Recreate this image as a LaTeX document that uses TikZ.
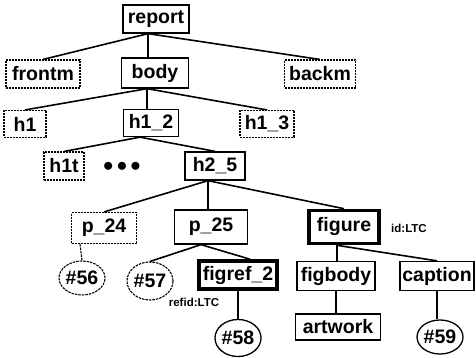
\documentclass[tikz,border=0pt]{standalone}
\usepackage{fontspec}
\setmainfont{Liberation Sans}
\usetikzlibrary{shapes.geometric}
\begin{document}
\begin{tikzpicture}[x=1pt,y=-1pt,
  every node/.style={font=\fontsize{19.5}{19.5}\selectfont\bfseries, inner sep=0pt},
  sbox/.style={draw, line width=1.3pt, rectangle, minimum height=#1},
  sbox/.default=28pt,
  dbox/.style={sbox=#1, dash pattern=on 2pt off 1pt, line width=1.1pt},
  dbox/.default=28pt,
  tbox/.style={draw, line width=3.6pt, rectangle},
  ell/.style={draw, ellipse, line width=1.3pt},
  dell/.style={ell, dash pattern=on 2.5pt off 1pt, line width=1.1pt},
  conn/.style={line width=1.6pt},
  lbl/.style={font=\fontsize{11.5}{11.5}\selectfont\bfseries}]
\useasboundingbox (0,0) rectangle (476,358);
% nodes
\node[sbox, minimum width=66pt] (report) at (156,19) {report};
\node[dbox, minimum width=74pt] (frontm) at (43,74) {frontm};
\node[sbox=30pt, minimum width=67pt] (body) at (155,73) {body};
\node[dbox, minimum width=71pt] (backm) at (320,74) {backm};
\node[dbox=27pt, minimum width=42pt] (h1) at (25,124) {h1};
\node[sbox=27pt, minimum width=55pt] (h12) at (151,123) {h1\_2};
\node[dbox=27pt, minimum width=54pt] (h13) at (267,124) {h1\_3};
\node[dbox, minimum width=40pt] (h1t) at (64,166) {h1t};
\node (dots) at (122,167) {$\bullet$\,$\bullet$\,$\bullet$};
\node[sbox, minimum width=60pt] (h25) at (215,166) {h2\_5};
\node[dbox=31pt, minimum width=65pt] (p24) at (104,228) {p\_24};
\node[sbox=34pt, minimum width=73pt] (p25) at (211,227) {p\_25};
\node[tbox, minimum width=70pt, minimum height=33pt] (figure) at (344,227) {figure};
\node[lbl, anchor=west] (idltc) at (391,228) {id:LTC};
\node[dell, minimum width=40pt, minimum height=34pt] (n56) at (82,278) {\#56};
\node[dell, minimum width=42pt, minimum height=38pt] (n57) at (150,281) {\#57};
\node[tbox, minimum width=78pt, minimum height=28pt] (figref) at (238,275) {figref\_2};
\node[lbl] (refid) at (194,302) {refid:LTC};
\node[ell, minimum width=45pt, minimum height=37pt] (n58) at (238,338) {\#58};
\node[sbox=29pt, minimum width=78pt] (figbody) at (336,276) {figbody};
\node[sbox=26pt, minimum width=85pt] (artwork) at (338,327) {artwork};
\node[sbox=29pt, minimum width=74pt] (caption) at (437,276) {caption};
\node[ell, minimum width=43pt, minimum height=34pt] (n59) at (440,337) {\#59};
% junctions
\coordinate (jreport) at ([xshift=-8pt]report.south);
\coordinate (jbody) at ([xshift=-8pt]body.south);
\coordinate (jh12) at ([xshift=-11pt]h12.south);
\coordinate (jh25) at ([xshift=-7pt]h25.south);
\coordinate (jp25) at ([xshift=-10pt]p25.south);
\coordinate (jfig) at ([xshift=-7pt]figure.south);
\coordinate (jp24) at ([xshift=-24pt]p24.south);
% connectors
\draw[conn] (jreport) -- (frontm.north);
\draw[conn] (jreport) -- (jreport |- body.north);
\draw[conn] (jreport) -- (backm.north);
\draw[conn] (jbody) -- (h1.north);
\draw[conn] (jbody) -- (jbody |- h12.north);
\draw[conn] (jbody) -- (h13.north);
\draw[conn] (jh12) -- (h1t.north);
\draw[conn] (jh12) -- (h25.north);
\draw[conn] (jh25) -- (p24.north);
\draw[conn] (jh25) -- (jh25 |- p25.north);
\draw[conn] (jh25) -- (figure.north);
\draw[conn, dash pattern=on 2.5pt off 1pt, line width=1.1pt] (jp24) -- (n56.north);
\draw[conn] (jp25) -- (n57.north);
\draw[conn] (jp25) -- ([xshift=12pt]figref.north);
\draw[conn] (figref.south) -- (n58.north);
\draw[conn] (jfig) -- (jfig |- figbody.north);
\draw[conn] (jfig) -- (caption.north);
\draw[conn] (figbody.south) -- (figbody.south |- artwork.north);
\draw[conn] (caption.south) -- (caption.south |- n59.north);
\end{tikzpicture}
\end{document}
